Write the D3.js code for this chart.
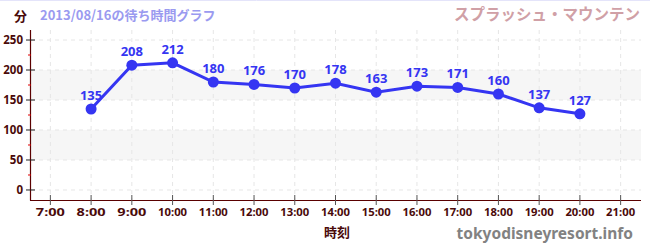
<!DOCTYPE html>
<html>
<head>
    <meta charset="utf-8" />
    <script src="https://d3js.org/d3.v7.min.js"></script>
    <style>
        body { margin: 0; background: #fff; }
        svg { font-family: "Noto Sans", "Noto Sans CJK JP", sans-serif; font-weight: bold; }
    </style>
</head>
<body>
    <script>
        // data
        var hours = [8, 9, 10, 11, 12, 13, 14, 15, 16, 17, 18, 19, 20];
        var waits = [135, 208, 212, 180, 176, 170, 178, 163, 173, 171, 160, 137, 127];
        var xTicks = [7, 8, 9, 10, 11, 12, 13, 14, 15, 16, 17, 18, 19, 20, 21];
        var yTicks = [0, 50, 100, 150, 200, 250];
        var yMinor = [25, 75, 125, 175, 225];
        var bands = [[50, 100], [150, 200]];

        var W = 650, H = 250;
        var svg = d3.select('body').append('svg').attr('width', W).attr('height', H);

        var x = d3.scaleLinear().domain([6.5, 21.5]).range([30, 641]);
        var y = d3.scaleLinear().domain([-16.7, 266.7]).range([200, 30]);

        // top border
        svg.append('line').attr('x1', 0).attr('x2', W).attr('y1', 0.5).attr('y2', 0.5)
            .attr('stroke', '#e4e4fa');

        // bands
        svg.selectAll('.band').data(bands).enter().append('rect')
            .attr('x', 31).attr('width', 641 - 31)
            .attr('y', function (d) { return y(d[1]); })
            .attr('height', function (d) { return y(d[0]) - y(d[1]); })
            .attr('fill', '#f6f6f6');

        // grid
        svg.selectAll('.vg').data(xTicks).enter().append('line')
            .attr('x1', function (d) { return x(d); }).attr('x2', function (d) { return x(d); })
            .attr('y1', 30).attr('y2', 200)
            .attr('stroke', '#e6e6e6').attr('stroke-dasharray', '4,4');
        svg.selectAll('.hg').data(yTicks).enter().append('line')
            .attr('x1', 31).attr('x2', 641)
            .attr('y1', function (d) { return y(d); }).attr('y2', function (d) { return y(d); })
            .attr('stroke', '#e6e6e6').attr('stroke-dasharray', '4,4');

        // axes
        var axisColor = '#5a0000';
        svg.append('line').attr('x1', 30.5).attr('x2', 30.5).attr('y1', 30).attr('y2', 200.5)
            .attr('stroke', axisColor).attr('stroke-width', 1.2);
        svg.append('line').attr('x1', 30).attr('x2', 641).attr('y1', 200.5).attr('y2', 200.5)
            .attr('stroke', axisColor).attr('stroke-width', 1.2);

        // y ticks
        svg.selectAll('.yt').data(yTicks).enter().append('line')
            .attr('x1', 26).attr('x2', 35)
            .attr('y1', function (d) { return y(d); }).attr('y2', function (d) { return y(d); })
            .attr('stroke', '#222');
        svg.selectAll('.ym').data(yMinor).enter().append('line')
            .attr('x1', 28).attr('x2', 31)
            .attr('y1', function (d) { return y(d); }).attr('y2', function (d) { return y(d); })
            .attr('stroke', '#e00000');
        svg.selectAll('.yl').data(yTicks).enter().append('text')
            .attr('x', 23).attr('y', function (d) { return y(d) + 4; })
            .attr('text-anchor', 'end').attr('font-size', 11.5).attr('fill', '#4a0a0a')
            .text(function (d) { return d; });

        // x ticks
        svg.selectAll('.xt').data(xTicks).enter().append('line')
            .attr('x1', function (d) { return x(d); }).attr('x2', function (d) { return x(d); })
            .attr('y1', 195).attr('y2', 205)
            .attr('stroke', '#555');
        svg.selectAll('.xl').data(xTicks).enter().append('text')
            .attr('x', function (d) { return x(d); }).attr('y', 216)
            .attr('text-anchor', 'middle').attr('font-size', 10.5).attr('fill', '#4a0a0a')
            .attr('textLength', 29).attr('lengthAdjust', 'spacingAndGlyphs')
            .text(function (d) { return d + ':00'; });

        // line
        var pts = hours.map(function (h, i) { return [h, waits[i]]; });
        svg.append('path').datum(pts)
            .attr('fill', 'none').attr('stroke', '#3535f2').attr('stroke-width', 3)
            .attr('d', d3.line().x(function (d) { return x(d[0]); }).y(function (d) { return y(d[1]); }));
        svg.selectAll('.pt').data(pts).enter().append('circle')
            .attr('cx', function (d) { return x(d[0]); }).attr('cy', function (d) { return y(d[1]); })
            .attr('r', 5.5).attr('fill', '#3535f2');
        svg.selectAll('.pl').data(pts).enter().append('text')
            .attr('x', function (d) { return x(d[0]); }).attr('y', function (d) { return y(d[1]) - 9; })
            .attr('text-anchor', 'middle').attr('font-size', 13).attr('fill', '#3535f2')
            .text(function (d) { return d[1]; });

        // titles
        svg.append('text').attr('x', 14).attr('y', 21).attr('font-size', 13)
            .attr('fill', '#4a0a0a').attr('font-family', '"Noto Sans CJK JP"').text('分');
        svg.append('text').attr('x', 40).attr('y', 20).attr('font-size', 13)
            .attr('fill', '#9a9af0').attr('font-family', '"Noto Sans CJK JP"').text('2013/08/16の待ち時間グラフ');
        svg.append('text').attr('x', 640).attr('y', 20).attr('font-size', 15.5)
            .attr('text-anchor', 'end')
            .attr('fill', '#d0a0a6').attr('font-family', '"Noto Sans CJK JP"').text('スプラッシュ・マウンテン');
        svg.append('text').attr('x', 337).attr('y', 237).attr('font-size', 13)
            .attr('text-anchor', 'middle')
            .attr('fill', '#4a0a0a').attr('font-family', '"Noto Sans CJK JP"').text('時刻');
        svg.append('text').attr('x', 633).attr('y', 239).attr('font-size', 15.5)
            .attr('text-anchor', 'end')
            .attr('fill', '#828282').text('tokyodisneyresort.info');
    </script>
</body>
</html>
